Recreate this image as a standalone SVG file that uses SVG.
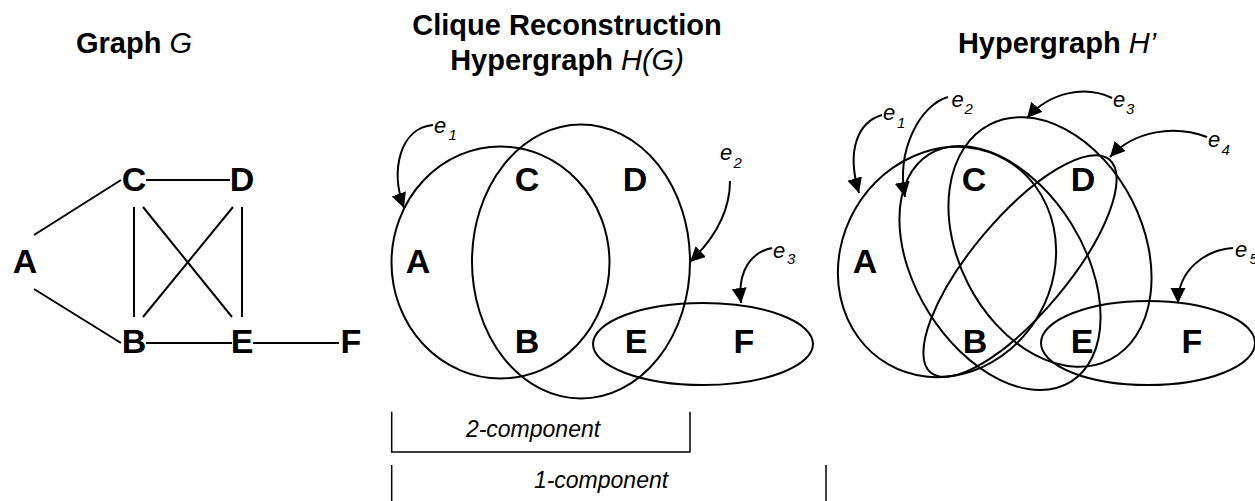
<svg xmlns="http://www.w3.org/2000/svg" width="1255" height="501" viewBox="0 0 1255 501">
  <defs>
    <marker id="ah" markerUnits="userSpaceOnUse" markerWidth="16" markerHeight="16" refX="15" refY="7.5" orient="auto">
      <path d="M0,0 L15,7.5 L0,15 Z" fill="#000"/>
    </marker>
    <style>
      .title{font-family:"Liberation Sans",Arial,sans-serif;font-size:29px;font-weight:bold;fill:#000;text-anchor:middle}
      .it{font-style:italic;font-weight:normal}
      .node{font-family:"Liberation Sans",Arial,sans-serif;font-size:34px;font-weight:bold;fill:#000;text-anchor:middle}
      .lbl{font-family:"Liberation Sans",Arial,sans-serif;font-style:italic;fill:#000}
      .e{font-size:22px}
      .sub{font-size:15px}
      .comp{font-family:"Liberation Sans",Arial,sans-serif;font-style:italic;font-size:23px;fill:#000;text-anchor:middle}
      .edge{stroke:#000;stroke-width:2;fill:none}
      .hyper{stroke:#000;stroke-width:2;fill:none}
      .arrow{stroke:#000;stroke-width:2;fill:none;marker-end:url(#ah)}
      .brk{stroke:#000;stroke-width:1.5;fill:none}
    </style>
  </defs>

  <!-- Titles -->
  <g id="titles">
    <text class="title" x="134" y="53">Graph <tspan class="it">G</tspan></text>
    <text class="title" x="567" y="35">Clique Reconstruction</text>
    <text class="title" x="567" y="70">Hypergraph <tspan class="it">H(G)</tspan></text>
    <text class="title" x="1057" y="53">Hypergraph <tspan class="it">H’</tspan></text>
  </g>

  <!-- Graph G connectors -->
  <g id="graph-edges">
    <line class="edge" x1="34" y1="235" x2="121" y2="180"/>
    <line class="edge" x1="34" y1="289" x2="121" y2="343"/>
    <line class="edge" x1="146" y1="180" x2="230" y2="180"/>
    <line class="edge" x1="146" y1="343" x2="232" y2="343"/>
    <line class="edge" x1="253" y1="343" x2="339" y2="343"/>
    <line class="edge" x1="134" y1="207" x2="134" y2="317"/>
    <line class="edge" x1="242" y1="207" x2="242" y2="317"/>
    <line class="edge" x1="143" y1="207" x2="232" y2="317"/>
    <line class="edge" x1="233" y1="207" x2="143" y2="317"/>
  </g>

  <!-- Graph G nodes -->
  <g id="g-A"><text class="node" x="25" y="273">A</text></g>
  <g id="g-B"><text class="node" x="134" y="353">B</text></g>
  <g id="g-C"><text class="node" x="134" y="191">C</text></g>
  <g id="g-D"><text class="node" x="242" y="191">D</text></g>
  <g id="g-E"><text class="node" x="242" y="353">E</text></g>
  <g id="g-F"><text class="node" x="351" y="353">F</text></g>

  <!-- H(G) hyperedges -->
  <g id="hg-e1"><ellipse class="hyper" cx="500.5" cy="262.5" rx="109" ry="116"/></g>
  <g id="hg-e2"><ellipse class="hyper" cx="581" cy="261.5" rx="109" ry="137"/></g>
  <g id="hg-e3"><ellipse class="hyper" cx="703" cy="344" rx="110" ry="41"/></g>

  <!-- H(G) nodes -->
  <g id="hg-A"><text class="node" x="418" y="273">A</text></g>
  <g id="hg-B"><text class="node" x="527" y="353">B</text></g>
  <g id="hg-C"><text class="node" x="527" y="191">C</text></g>
  <g id="hg-D"><text class="node" x="635" y="191">D</text></g>
  <g id="hg-E"><text class="node" x="636" y="353">E</text></g>
  <g id="hg-F"><text class="node" x="744" y="353">F</text></g>

  <!-- H' hyperedges -->
  <g id="hp-e1"><ellipse class="hyper" cx="947" cy="262" rx="106" ry="118" transform="rotate(30 947 262)"/></g>
  <g id="hp-e2"><ellipse class="hyper" cx="1000" cy="268" rx="84" ry="134" transform="rotate(-32 1000 268)"/></g>
  <g id="hp-e3"><ellipse class="hyper" cx="1050" cy="242" rx="92" ry="132" transform="rotate(-27 1050 242)"/></g>
  <g id="hp-e4"><ellipse class="hyper" cx="1020" cy="266" rx="139" ry="48" transform="rotate(-50 1020 266)"/></g>
  <g id="hp-e5"><ellipse class="hyper" cx="1148" cy="343" rx="107" ry="42"/></g>

  <!-- H' nodes -->
  <g id="hp-A"><text class="node" x="865" y="273">A</text></g>
  <g id="hp-B"><text class="node" x="975" y="353">B</text></g>
  <g id="hp-C"><text class="node" x="974" y="191">C</text></g>
  <g id="hp-D"><text class="node" x="1083" y="191">D</text></g>
  <g id="hp-E"><text class="node" x="1082" y="353">E</text></g>
  <g id="hp-F"><text class="node" x="1192" y="353">F</text></g>

  <!-- Label arrows -->
  <g id="connectors">
    <path class="arrow" d="M433,125 C400,128 390,170 404,208"/>
    <path class="arrow" d="M730,181 C730,210 715,238 690,262"/>
    <path class="arrow" d="M772,248 C752,252 737,270 741,303"/>
    <path class="arrow" d="M882,115 C858,122 846,150 859,193"/>
    <path class="arrow" d="M948,97 C920,105 896,150 905,197"/>
    <path class="arrow" d="M1112,98 C1085,85 1050,92 1027,118"/>
    <path class="arrow" d="M1207,137 C1175,125 1135,130 1110,157"/>
    <path class="arrow" d="M1233,248 C1205,250 1178,270 1178,303"/>
  </g>

  <!-- Edge labels -->
  <g id="labels">
    <text class="lbl e" x="434" y="133">e</text><text class="lbl sub" x="448.5" y="140">1</text>
    <text class="lbl e" x="720" y="160">e</text><text class="lbl sub" x="733.5" y="168">2</text>
    <text class="lbl e" x="773" y="258">e</text><text class="lbl sub" x="787" y="263.5">3</text>
    <text class="lbl e" x="883" y="120">e</text><text class="lbl sub" x="897" y="128">1</text>
    <text class="lbl e" x="951.5" y="107">e</text><text class="lbl sub" x="964.5" y="113.5">2</text>
    <text class="lbl e" x="1113" y="107">e</text><text class="lbl sub" x="1126" y="113.5">3</text>
    <text class="lbl e" x="1208" y="147">e</text><text class="lbl sub" x="1221.5" y="155">4</text>
    <text class="lbl e" x="1235" y="257">e</text><text class="lbl sub" x="1249.5" y="263.5">5</text>
  </g>

  <!-- Component brackets -->
  <g id="comp2">
    <path class="brk" d="M391.7,411.7 V452 H690 V411.7"/>
    <text class="comp" x="533" y="437">2-component</text>
  </g>
  <g id="comp1">
    <line class="brk" x1="391.7" y1="465" x2="391.7" y2="501"/>
    <line class="brk" x1="826" y1="465" x2="826" y2="501"/>
    <text class="comp" x="601" y="488">1-component</text>
  </g>
</svg>
